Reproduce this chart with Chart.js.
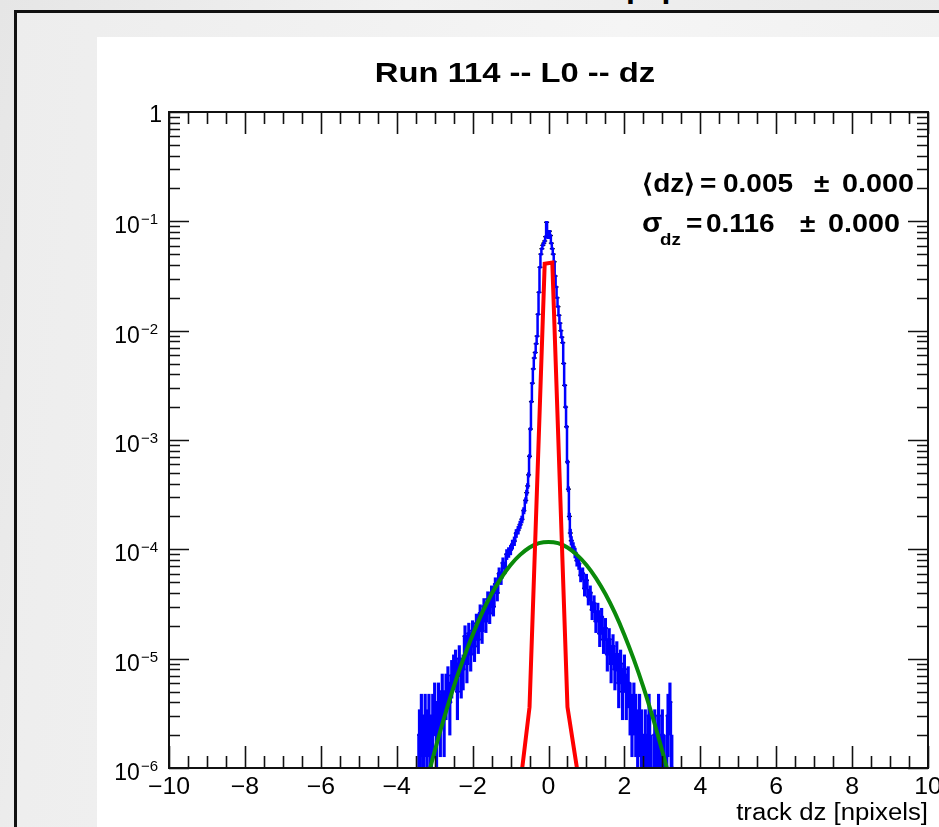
<!DOCTYPE html>
<html>
<head>
<meta charset="utf-8">
<script src="https://cdn.jsdelivr.net/npm/chart.js@4/dist/chart.umd.min.js"></script>
<style>
  html, body { margin: 0; padding: 0; width: 939px; height: 827px; overflow: hidden; }
  body { position: relative; background: linear-gradient(105deg, #e6e6e6 0%, #f1f1f1 35%, #ebebeb 70%, #e9e9e9 100%); }
  #frame { position: absolute; left: 14px; top: 10px; width: 940px; height: 830px; border: 3px solid #111;
           background: linear-gradient(95deg, #ededed 0%, #f5f5f5 60%, #f0f0f0 100%); }
  #panel { position: absolute; left: 97px; top: 37px; right: 0; bottom: 0; background: #fff; }
  #head { position: absolute; left: 626px; top: -30px; font: bold 32px "Liberation Sans", Arial, sans-serif;
          letter-spacing: 16px; line-height: 32px; color: #000; }
  canvas { position: absolute; left: 0; top: 0; }
</style>
</head>
<body>
<div id="frame"></div>
<div id="panel"></div>
<div id="head">pp</div>
<canvas id="plot" width="939" height="827"></canvas>
<script>
// histogram: entries per bin (normalised by nEntries)
const nEntries = 1e6;

const leftTailX = [-3.45, -3.40, -3.35, -3.30, -3.25, -3.20, -3.15, -3.10, -3.05, -3.00, -2.95, -2.90, -2.85, -2.80, -2.75,
  -2.70, -2.65, -2.60, -2.55, -2.50, -2.45, -2.40, -2.35, -2.30, -2.25, -2.20, -2.15, -2.10, -2.05, -2.00, -1.95,
  -1.90, -1.85, -1.80, -1.75, -1.70, -1.65, -1.60, -1.55, -1.50, -1.45, -1.40, -1.35, -1.30, -1.25, -1.20, -1.15,
  -1.10, -1.05, -1.00, -0.95, -0.90, -0.85, -0.80, -0.75, -0.70, -0.65, -0.60];
const leftTailN = [0, 2, 3, 1, 3, 2, 3, 1, 3, 4, 2, 4, 3, 5, 3,
  5, 6, 4, 7, 8, 9, 5, 10, 7, 8, 16, 9, 17, 11, 18, 13,
  21, 15, 26, 18, 30, 22, 35, 26, 40, 30, 48, 40, 60, 55, 75, 68,
  90, 94, 99, 111, 119, 140, 150, 168, 188, 226, 280];

const coreX = [-0.575, -0.550, -0.525, -0.500, -0.475, -0.450, -0.425, -0.400, -0.375, -0.350, -0.325, -0.300,
  -0.275, -0.250, -0.225, -0.200, -0.175, -0.150, -0.125, -0.100, -0.075, -0.050, -0.025, 0.000,
  0.025, 0.050, 0.075, 0.100, 0.125, 0.150, 0.175, 0.200, 0.225, 0.250, 0.275, 0.300,
  0.325, 0.350, 0.375, 0.400, 0.425, 0.450, 0.475, 0.500, 0.525, 0.550, 0.575];
const coreN = [330, 380, 480, 710, 1260, 2240, 3310, 4470, 5620, 6310, 7590, 8910,
  14100, 22400, 38000, 50100, 56200, 60300, 63100, 66100, 72400, 98000, 77600, 70800,
  81300, 74100, 63100, 56200, 50100, 42700, 31600, 25100, 20000, 16600, 13800, 11700,
  10000, 8710, 7760, 5010, 3160, 2000, 1320, 630, 355, 200, 141];

const rightTailX = [0.60, 0.65, 0.70, 0.75, 0.80, 0.85, 0.90, 0.95, 1.00, 1.05, 1.10, 1.15, 1.20, 1.25,
  1.30, 1.35, 1.40, 1.45, 1.50, 1.55, 1.60, 1.65, 1.70, 1.75, 1.80, 1.85, 1.90, 1.95, 2.00, 2.05,
  2.10, 2.15, 2.20, 2.25, 2.30, 2.35, 2.40, 2.45, 2.50, 2.55, 2.60, 2.65, 2.70, 2.75, 2.80, 2.85,
  2.90, 2.95, 3.00, 3.05, 3.10, 3.15, 3.20, 3.25, 3.30];
const rightTailN = [120, 105, 93, 79, 74, 58, 60, 44, 52, 37, 40, 28, 32, 22,
  27, 17, 24, 15, 19, 11, 15, 9, 13, 8, 11, 6, 9, 5, 8, 5,
  6, 4, 3, 4, 3, 2, 3, 2, 1, 2, 1, 3, 1, 0, 2, 1,
  3, 1, 2, 1, 0, 3, 4, 1, 0];

// fitted curves as drawn (red: core gaussian polyline, green: wide gaussian)
const coreFitX = [-0.9, -0.5, -0.1, 0.1, 0.5, 0.9];
const coreFitY = [2.5e-7, 3.6e-6, 0.041, 0.042, 3.6e-6, 4.6e-7];
const wideFitX = [-3.5, -3.25, -3.0, -2.75, -2.5, -2.25, -2.0, -1.75, -1.5, -1.25, -1.0, -0.75, -0.5, -0.25, 0,
  0.25, 0.5, 0.75, 1.0, 1.25, 1.5, 1.75, 2.0, 2.25, 2.5, 2.75, 3.0, 3.25, 3.5];
const wideFitY = [2.9e-7, 6.6e-7, 1.42e-6, 2.88e-6, 5.5e-6, 9.8e-6, 1.65e-5, 2.62e-5, 3.9e-5, 5.46e-5, 7.2e-5, 8.9e-5, 1.04e-4, 1.14e-4, 1.17e-4,
  1.14e-4, 1.04e-4, 8.9e-5, 7.2e-5, 5.46e-5, 3.9e-5, 2.62e-5, 1.65e-5, 9.8e-6, 5.5e-6, 2.88e-6, 1.42e-6, 6.6e-7, 2.9e-7];

const xTickValues = [-10, -8, -6, -4, -2, 0, 2, 4, 6, 8, 10];
const xTickLabels = ["\u221210", "\u22128", "\u22126", "\u22124", "\u22122", "0", "2", "4", "6", "8", "10"];
const yTickValues = [1, 1e-1, 1e-2, 1e-3, 1e-4, 1e-5, 1e-6];
const yTickLabels = [["1", ""], ["10", "\u22121"], ["10", "\u22122"], ["10", "\u22123"], ["10", "\u22124"], ["10", "\u22125"], ["10", "\u22126"]];

const titleText = "Run 114 -- L0 -- dz";
const xAxisTitle = "track dz [npixels]";

// build the datasets
const bins = [];
[[leftTailX, leftTailN], [coreX, coreN], [rightTailX, rightTailN]].forEach(([xs, ns]) => {
  xs.forEach((x, i) => bins.push({ x: x, n: ns[i] }));
});
const filled = bins.filter(b => b.n > 0);
const errorBars = filled.map(b => ({
  x: b.x,
  y: [Math.max((b.n - Math.sqrt(b.n)) / nEntries, 1e-9), (b.n + Math.sqrt(b.n)) / nEntries]
}));
const centres = filled.map(b => ({ x: b.x, y: b.n / nEntries }));
// outline of the histogram; empty bins sit below the axis floor
const outline = bins.map(b => ({ x: b.x, y: b.n > 0 ? b.n / nEntries : 1e-9 }));
const coreFit = coreFitX.map((x, i) => ({ x: x, y: coreFitY[i] }));
const wideFit = wideFitX.map((x, i) => ({ x: x, y: wideFitY[i] }));

const FONT = '"Liberation Sans", Arial, Helvetica, sans-serif';

function stretchedText(ctx, text, x, y, font, align, sx) {
  ctx.save();
  ctx.font = font;
  ctx.textAlign = align;
  ctx.textBaseline = "alphabetic";
  ctx.translate(x, y);
  ctx.scale(sx, 1);
  ctx.fillText(text, 0, 0);
  ctx.restore();
}

// ROOT style frame, ticks and texts
const rootFrame = {
  id: "rootFrame",
  afterDraw(chart) {
    const { ctx, chartArea: a, scales: { x, y } } = chart;
    ctx.save();
    ctx.strokeStyle = "#111";
    ctx.fillStyle = "#000";
    ctx.lineWidth = 2;
    ctx.strokeRect(a.left, a.top, a.right - a.left, a.bottom - a.top);

    ctx.lineWidth = 1.6;
    ctx.beginPath();
    for (let v = -10; v <= 10.001; v += 0.5) {
      const px = Math.round(x.getPixelForValue(v)) + 0.5;
      const len = Math.abs(v % 2) < 1e-6 ? 22 : 12;
      ctx.moveTo(px, a.bottom); ctx.lineTo(px, a.bottom - len);
      ctx.moveTo(px, a.top); ctx.lineTo(px, a.top + len);
    }
    for (let d = -6; d <= 0; d++) {
      for (let m = 1; m <= 9; m++) {
        const v = m * Math.pow(10, d);
        if (v > 1.0001) break;
        const py = Math.round(y.getPixelForValue(v)) + 0.5;
        const len = m === 1 ? 20 : 11;
        ctx.moveTo(a.left, py); ctx.lineTo(a.left + len, py);
        ctx.moveTo(a.right, py); ctx.lineTo(a.right - len, py);
      }
    }
    ctx.stroke();

    // x tick labels
    xTickValues.forEach((v, i) => {
      stretchedText(ctx, xTickLabels[i], x.getPixelForValue(v), a.bottom + 26, "23px " + FONT, "center", 1.08);
    });
    // y tick labels with superscript exponents
    yTickValues.forEach((v, i) => {
      const py = y.getPixelForValue(v);
      const [base, exp] = yTickLabels[i];
      if (!exp) {
        stretchedText(ctx, base, a.left - 7, py + 10, "23px " + FONT, "right", 1);
      } else {
        ctx.font = "15px " + FONT;
        const ew = ctx.measureText(exp).width;
        stretchedText(ctx, exp, a.left - 11, py + 3, "15px " + FONT, "right", 1);
        stretchedText(ctx, base, a.left - 12 - ew, py + 12, "23px " + FONT, "right", 1);
      }
    });

    // title and axis title
    stretchedText(ctx, titleText, 515, 82, "bold 28px " + FONT, "center", 1.17);
    stretchedText(ctx, xAxisTitle, a.right, 820, "23px " + FONT, "right", 1.12);

    // fit results
    const bf = "bold 25px " + FONT;
    stretchedText(ctx, "\u27E8dz\u27E9", 642, 192, bf, "left", 1.12);
    stretchedText(ctx, "=", 700, 192, bf, "left", 1.12);
    stretchedText(ctx, "0.005", 723, 192, bf, "left", 1.12);
    stretchedText(ctx, "\u00B1", 814, 192, bf, "left", 1.12);
    stretchedText(ctx, "0.000", 842, 192, bf, "left", 1.15);
    stretchedText(ctx, "\u03C3", 642, 232, "bold 27px " + FONT, "left", 1.1);
    stretchedText(ctx, "dz", 660, 245, "bold 17px " + FONT, "left", 1.1);
    stretchedText(ctx, "=", 686, 232, bf, "left", 1.12);
    stretchedText(ctx, "0.116", 706, 232, bf, "left", 1.12);
    stretchedText(ctx, "\u00B1", 800, 232, bf, "left", 1.12);
    stretchedText(ctx, "0.000", 828, 232, bf, "left", 1.15);
    ctx.restore();
  }
};

new Chart(document.getElementById("plot"), {
  type: "bar",
  data: {
    datasets: [
      { type: "line", label: "core fit", data: coreFit, borderColor: "#ff0000", borderWidth: 4,
        pointRadius: 0, tension: 0, order: 0, clip: 0 },
      { type: "line", label: "tail fit", data: wideFit, borderColor: "#0a8a0a", borderWidth: 4,
        pointRadius: 0, cubicInterpolationMode: "monotone", order: 1, clip: 0 },
      { type: "line", label: "outline", data: outline, stepped: "middle", borderColor: "#0000ff", borderWidth: 2.5,
        pointRadius: 0, order: 2, clip: 0 },
      { type: "bar", label: "errors", data: errorBars, backgroundColor: "#0000ff", barThickness: 2.5,
        order: 3, clip: 0 },
      { type: "scatter", label: "centres", data: centres, pointStyle: "line", pointRadius: 2.5,
        borderColor: "#000", borderWidth: 1.3, order: 4, clip: 0 }
    ]
  },
  options: {
    responsive: false,
    animation: false,
    events: [],
    layout: { padding: { left: 169, top: 112, right: 11, bottom: 59 } },
    plugins: { legend: { display: false }, tooltip: { enabled: false }, title: { display: false } },
    scales: {
      x: { type: "linear", min: -10, max: 10, offset: false, display: false },
      y: { type: "logarithmic", min: 1e-6, max: 1, display: false }
    }
  },
  plugins: [rootFrame]
});
</script>
</body>
</html>
